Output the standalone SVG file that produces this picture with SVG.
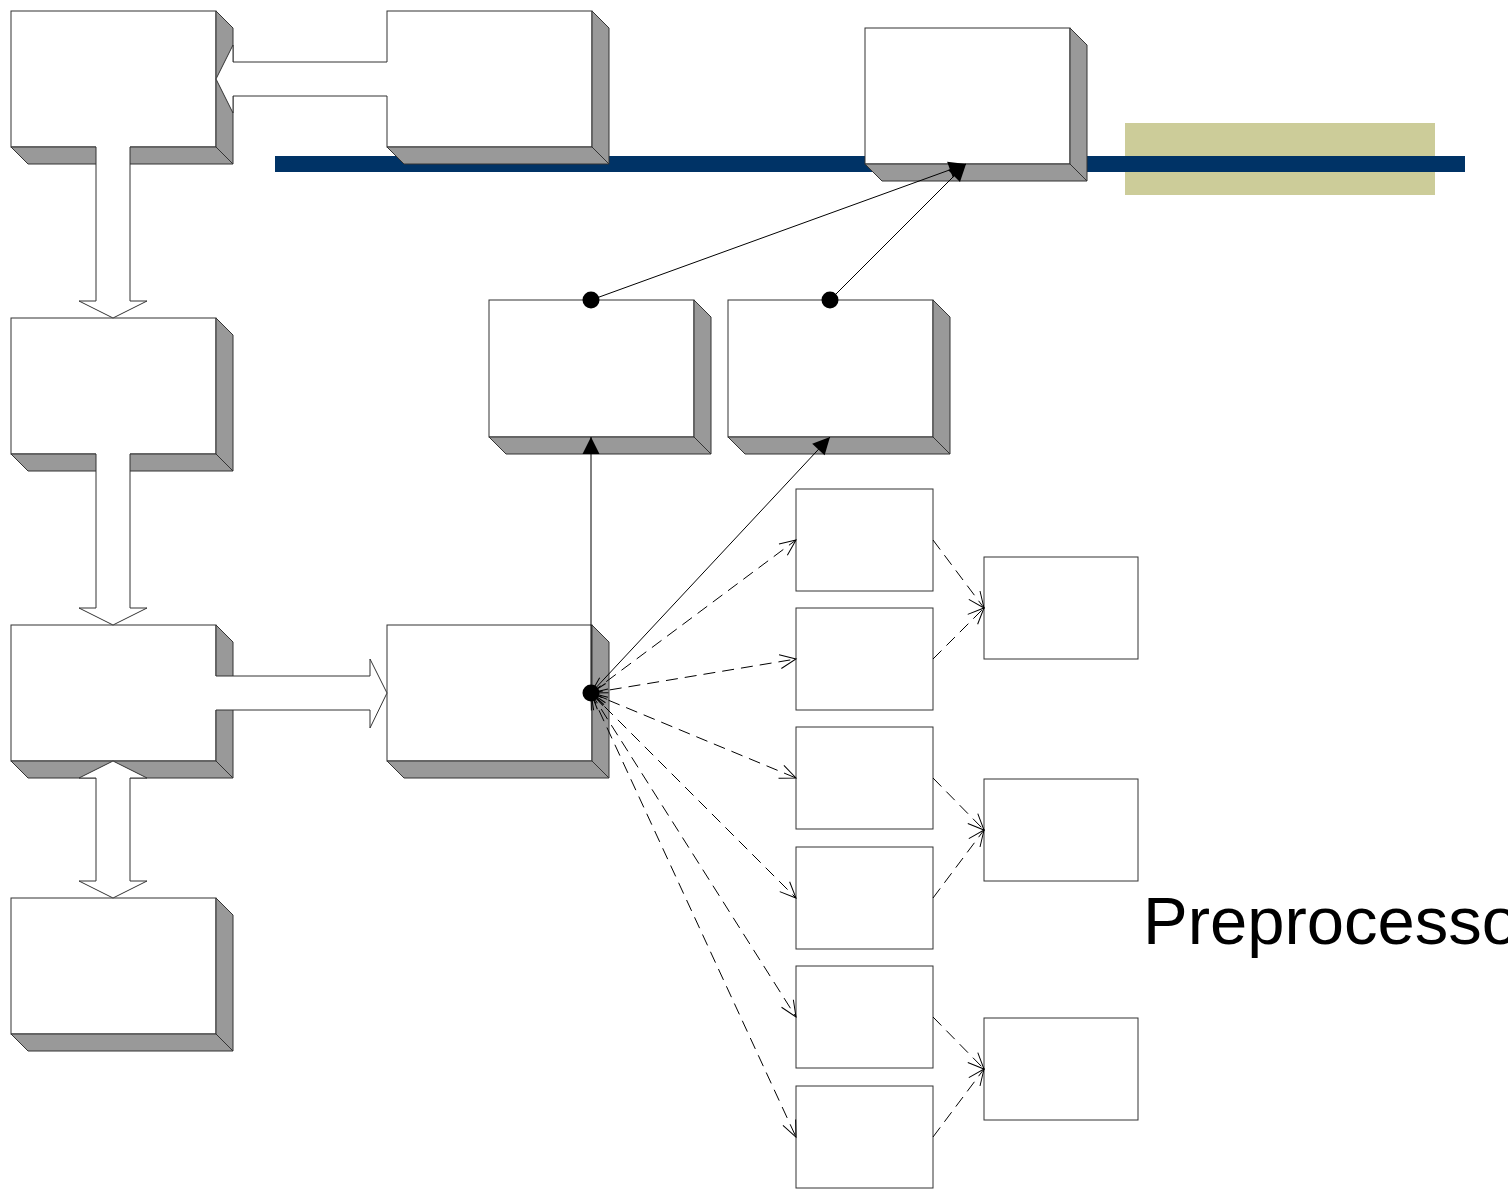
<svg xmlns="http://www.w3.org/2000/svg" width="1508" height="1190" viewBox="0 0 1508 1190">
<defs>
<style>
.front{fill:#fff;stroke:#333;stroke-width:1}
.side{fill:#999;stroke:#333;stroke-width:1;stroke-linejoin:miter}
.flat{fill:#fff;stroke:#333;stroke-width:1}
.bfill{fill:#fff;stroke:none}
.bline{fill:none;stroke:#333;stroke-width:1}
.solid{fill:none;stroke:#000;stroke-width:1}
.dash{fill:none;stroke:#000;stroke-width:1;stroke-dasharray:12 7}
.dot{fill:#000}
.label{font-family:"Liberation Sans",Arial,sans-serif;font-size:67px;fill:#000}
</style>
<marker id="tri" markerUnits="userSpaceOnUse" markerWidth="18" markerHeight="18" refX="17" refY="8.5" orient="auto" overflow="visible">
<path d="M0,0 L17,8.5 L0,17 z" fill="#000"/>
</marker>
<marker id="open" markerUnits="userSpaceOnUse" markerWidth="20" markerHeight="16" refX="16" refY="7" orient="auto-start-reverse" overflow="visible">
<path d="M0,0 L16,7 L0,14" fill="none" stroke="#000" stroke-width="1"/>
</marker>
</defs>
<rect width="1508" height="1190" fill="#fff"/>

<g id="bus">
<rect x="1125" y="123" width="310" height="72" fill="#CCCC99"/>
<rect x="275" y="156" width="1190" height="16" fill="#003366"/>
</g>

<g id="boxA">
<rect class="front" x="11" y="11" width="205" height="136"/>
<polygon class="side" points="216,11 233,28 233,164 216,147"/>
<polygon class="side" points="11,147 216,147 233,164 28,164"/>
</g>
<g id="boxB">
<rect class="front" x="387" y="11" width="205" height="136"/>
<polygon class="side" points="592,11 609,28 609,164 592,147"/>
<polygon class="side" points="387,147 592,147 609,164 404,164"/>
</g>
<g id="boxC">
<rect class="front" x="865" y="28" width="205" height="136"/>
<polygon class="side" points="1070,28 1087,45 1087,181 1070,164"/>
<polygon class="side" points="865,164 1070,164 1087,181 882,181"/>
</g>
<g id="boxD">
<rect class="front" x="11" y="318" width="205" height="136"/>
<polygon class="side" points="216,318 233,335 233,471 216,454"/>
<polygon class="side" points="11,454 216,454 233,471 28,471"/>
</g>
<g id="boxE">
<rect class="front" x="11" y="625" width="205" height="136"/>
<polygon class="side" points="216,625 233,642 233,778 216,761"/>
<polygon class="side" points="11,761 216,761 233,778 28,778"/>
</g>
<g id="boxF">
<rect class="front" x="11" y="898" width="205" height="136"/>
<polygon class="side" points="216,898 233,915 233,1051 216,1034"/>
<polygon class="side" points="11,1034 216,1034 233,1051 28,1051"/>
</g>
<g id="boxG">
<rect class="front" x="387" y="625" width="205" height="136"/>
<polygon class="side" points="592,625 609,642 609,778 592,761"/>
<polygon class="side" points="387,761 592,761 609,778 404,778"/>
</g>
<g id="boxH">
<rect class="front" x="489" y="300" width="205" height="137"/>
<polygon class="side" points="694,300 711,317 711,454 694,437"/>
<polygon class="side" points="489,437 694,437 711,454 506,454"/>
</g>
<g id="boxI">
<rect class="front" x="728" y="300" width="205" height="137"/>
<polygon class="side" points="933,300 950,317 950,454 933,437"/>
<polygon class="side" points="728,437 933,437 950,454 745,454"/>
</g>

<g id="p1"><rect class="flat" x="796" y="489" width="137" height="102"/></g>
<g id="p2"><rect class="flat" x="796" y="608" width="137" height="102"/></g>
<g id="p3"><rect class="flat" x="796" y="727" width="137" height="102"/></g>
<g id="p4"><rect class="flat" x="796" y="847" width="137" height="102"/></g>
<g id="p5"><rect class="flat" x="796" y="966" width="137" height="102"/></g>
<g id="p6"><rect class="flat" x="796" y="1086" width="137" height="102"/></g>
<g id="q1"><rect class="flat" x="984" y="557" width="154" height="102"/></g>
<g id="q2"><rect class="flat" x="984" y="779" width="154" height="102"/></g>
<g id="q3"><rect class="flat" x="984" y="1018" width="154" height="102"/></g>

<g id="connectors">
<!-- block arrow B -> A -->
<polygon class="bfill" points="388,62 233,62 233,45 216,79 233,113 233,96 388,96"/>
<polyline class="bline" points="387,62 233,62 233,45 216,79 233,113 233,96 387,96"/>
<!-- block arrow A -> D -->
<polygon class="bfill" points="96,146 130,146 130,301 147,301 113,318 79,301 96,301"/>
<polyline class="bline" points="96,147 96,301 79,301 113,318 147,301 130,301 130,147"/>
<!-- block arrow D -> E -->
<polygon class="bfill" points="96,453 130,453 130,608 147,608 113,625 79,608 96,608"/>
<polyline class="bline" points="96,454 96,608 79,608 113,625 147,608 130,608 130,454"/>
<!-- block arrow E <-> F -->
<polygon class="bfill" points="113,761 147,778 130,778 130,881 147,881 113,898 79,881 96,881 96,778 79,778"/>
<polygon class="bline" points="113,761 147,778 130,778 130,881 147,881 113,898 79,881 96,881 96,778 79,778"/>
<!-- block arrow E -> G -->
<polygon class="bfill" points="215,676 370,676 370,659 387,693 370,728 370,710 215,710"/>
<polyline class="bline" points="216,676 370,676 370,659 387,693 370,728 370,710 216,710"/>

<!-- solid connectors -->
<line class="solid" x1="591" y1="300" x2="966" y2="164" marker-end="url(#tri)"/>
<line class="solid" x1="830" y1="300" x2="966" y2="164" marker-end="url(#tri)"/>
<line class="solid" x1="591" y1="693" x2="591" y2="437" marker-end="url(#tri)"/>
<line class="solid" x1="591" y1="693" x2="830" y2="437" marker-end="url(#tri)"/>

<!-- dashed fan-out -->
<line class="dash" x1="591" y1="693" x2="796" y2="540" marker-start="url(#open)" marker-end="url(#open)"/>
<line class="dash" x1="591" y1="693" x2="796" y2="659" marker-start="url(#open)" marker-end="url(#open)"/>
<line class="dash" x1="591" y1="693" x2="796" y2="778" marker-start="url(#open)" marker-end="url(#open)"/>
<line class="dash" x1="591" y1="693" x2="796" y2="898" marker-start="url(#open)" marker-end="url(#open)"/>
<line class="dash" x1="591" y1="693" x2="796" y2="1017" marker-start="url(#open)" marker-end="url(#open)"/>
<line class="dash" x1="591" y1="693" x2="796" y2="1137" marker-start="url(#open)" marker-end="url(#open)"/>

<!-- dashed merge -->
<line class="dash" x1="933" y1="540" x2="984" y2="608" marker-end="url(#open)"/>
<line class="dash" x1="933" y1="659" x2="984" y2="608" marker-end="url(#open)"/>
<line class="dash" x1="933" y1="778" x2="984" y2="830" marker-end="url(#open)"/>
<line class="dash" x1="933" y1="898" x2="984" y2="830" marker-end="url(#open)"/>
<line class="dash" x1="933" y1="1017" x2="984" y2="1069" marker-end="url(#open)"/>
<line class="dash" x1="933" y1="1137" x2="984" y2="1069" marker-end="url(#open)"/>

<!-- dots -->
<circle class="dot" cx="591" cy="300" r="8.5"/>
<circle class="dot" cx="830" cy="300" r="8.5"/>
<circle class="dot" cx="591" cy="693" r="8.5"/>
</g>

<g id="label">
<text class="label" x="1143" y="944">Preprocesso</text>
</g>
</svg>
